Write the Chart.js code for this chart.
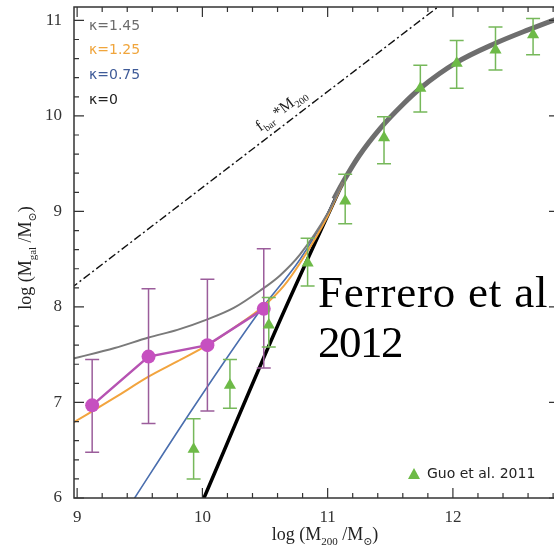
<!DOCTYPE html>
<html>
<head>
<meta charset="utf-8">
<script src="https://cdn.jsdelivr.net/npm/chart.js@4.4.1/dist/chart.umd.min.js"></script>
<style>
  html, body { margin: 0; padding: 0; background: #fff; overflow: hidden; }
  #wrap { position: relative; width: 554px; height: 553px; overflow: hidden; }
  #wrap canvas { display: block; }
</style>
</head>
<body>
<div id="wrap"><canvas id="chart" width="566" height="553"></canvas></div>
<script>
// axis ticks
const xTicks = [9, 10, 11, 12];
const yTicks = [6, 7, 8, 9, 10, 11];

// f_bar * M200 line
const fbarX = [8.95, 12.0];
const fbarY = [8.195, 11.26];

// model curves for different kappa
const k145X = [8.97, 9.3, 9.57, 9.8, 10.04, 10.25, 10.46, 10.62, 10.78, 11.0, 11.12];
const k145Y = [7.46, 7.57, 7.68, 7.76, 7.87, 7.99, 8.17, 8.33, 8.55, 8.98, 9.3];
const k125X = [8.97, 9.3, 9.57, 9.8, 10.04, 10.25, 10.49, 10.65, 10.78, 11.0, 11.12];
const k125Y = [6.79, 7.05, 7.27, 7.43, 7.6, 7.78, 8.01, 8.22, 8.46, 8.95, 9.3];
const k075X = [9.4, 9.93, 10.46, 10.78, 11.0, 11.12];
const k075Y = [5.88, 6.95, 7.96, 8.5, 8.98, 9.3];
const k0X = [9.98, 10.62, 11.12];
const k0Y = [5.9, 7.86, 9.3];
// high mass part where all curves overlap
const commonX = [11.05, 11.12, 11.25, 11.42, 11.6, 11.74, 12.03, 12.34, 12.6, 12.9];
const commonY = [9.13, 9.3, 9.58, 9.87, 10.12, 10.29, 10.56, 10.76, 10.9, 11.05];

// Ferrero et al 2012 points
const ferX = [9.12, 9.57, 10.04, 10.49];
const ferY = [6.97, 7.48, 7.60, 7.98];
const ferLo = [6.48, 6.78, 6.91, 7.36];
const ferHi = [7.45, 8.19, 8.29, 8.61];

// Guo et al. 2011 points
const guoX = [9.93, 10.22, 10.53, 10.84, 11.14, 11.45, 11.74, 12.03, 12.34, 12.64];
const guoY = [6.51, 7.18, 7.81, 8.46, 9.11, 9.77, 10.29, 10.55, 10.69, 10.85];
const guoLo = [6.20, 6.94, 7.58, 8.22, 8.87, 9.50, 10.04, 10.29, 10.48, 10.64];
const guoHi = [6.83, 7.45, 8.10, 8.72, 9.39, 9.99, 10.53, 10.79, 10.93, 11.02];

const kappaLabels = ["\u03ba=1.45", "\u03ba=1.25", "\u03ba=0.75", "\u03ba=0"];

const pts = (xs, ys) => xs.map((x, i) => ({ x: x, y: ys[i] }));

const curve = (label, xs, ys, color, width, textColor) => ({
  label: label,
  data: pts(xs, ys),
  showLine: true,
  borderColor: color,
  borderWidth: width,
  pointRadius: 0,
  cubicInterpolationMode: "monotone",
  textColor: textColor,
});

const serif = '"Liberation Serif", "DejaVu Serif", serif';
const sans = '"DejaVu Sans", sans-serif';

// text with subscripts, parts = [[text, isSub], ...]
function drawRich(ctx, parts, x, y, size, subSize, align) {
  let w = 0;
  parts.forEach(([t, s]) => {
    ctx.font = (s ? subSize : size) + "px " + serif;
    w += ctx.measureText(t).width;
  });
  let cx = align === "center" ? x - w / 2 : x;
  parts.forEach(([t, s]) => {
    ctx.font = (s ? subSize : size) + "px " + serif;
    ctx.fillText(t, cx, s ? y + size * 0.25 : y);
    cx += ctx.measureText(t).width;
  });
}

const annot = {
  id: "annot",
  // error bars go under the markers of their dataset
  beforeDatasetDraw(chart, args) {
    const ds = chart.data.datasets[args.index];
    if (!ds.errLo) return;
    const { ctx, scales: { x, y } } = chart;
    ctx.save();
    ctx.strokeStyle = ds.errColor;
    ctx.lineWidth = 1.5;
    ds.data.forEach((p, i) => {
      const px = x.getPixelForValue(p.x);
      const y1 = y.getPixelForValue(ds.errLo[i]);
      const y2 = y.getPixelForValue(ds.errHi[i]);
      ctx.beginPath();
      ctx.moveTo(px, y1); ctx.lineTo(px, y2);
      ctx.moveTo(px - 7, y1); ctx.lineTo(px + 7, y1);
      ctx.moveTo(px - 7, y2); ctx.lineTo(px + 7, y2);
      ctx.stroke();
    });
    ctx.restore();
  },
  afterDraw(chart) {
    const { ctx, chartArea: a, scales: { x, y } } = chart;
    ctx.save();

    // frame
    ctx.strokeStyle = "#333";
    ctx.lineWidth = 1.5;
    ctx.strokeRect(a.left, a.top, a.right - a.left, a.bottom - a.top);

    // inward ticks, minor every 0.2
    ctx.lineWidth = 1.2;
    ctx.beginPath();
    for (let v = 9; v <= 12.85; v += 0.2) {
      const major = Math.abs(v - Math.round(v)) < 0.01;
      const len = major ? 10 : 5;
      const px = x.getPixelForValue(v);
      ctx.moveTo(px, a.bottom); ctx.lineTo(px, a.bottom - len);
      ctx.moveTo(px, a.top); ctx.lineTo(px, a.top + len);
    }
    for (let v = 6; v <= 11.15; v += 0.2) {
      const major = Math.abs(v - Math.round(v)) < 0.01;
      const len = major ? 10 : 5;
      const py = y.getPixelForValue(v);
      ctx.moveTo(a.left, py); ctx.lineTo(a.left + len, py);
      ctx.moveTo(a.right, py); ctx.lineTo(a.right - len, py);
    }
    ctx.stroke();

    // axis titles
    ctx.fillStyle = "#222";
    ctx.textBaseline = "alphabetic";
    drawRich(ctx, [["log (M", 0], ["200", 1], [" /M", 0], ["\u2299", 1], [")", 0]], 325, 540, 18, 11, "center");
    ctx.save();
    ctx.translate(31, 258);
    ctx.rotate(-Math.PI / 2);
    drawRich(ctx, [["log (M", 0], ["gal", 1], [" /M", 0], ["\u2299", 1], [")", 0]], 0, 0, 18, 11, "center");
    ctx.restore();

    // kappa legend
    ctx.font = "14px " + sans;
    ctx.textBaseline = "middle";
    kappaLabels.forEach((lab, i) => {
      const ds = chart.data.datasets.find(d => d.label === lab);
      ctx.fillStyle = ds.textColor;
      ctx.fillText(lab, 89, 26 + i * 24.7);
    });

    // Guo legend
    const gds = chart.data.datasets[0];
    ctx.fillStyle = gds.backgroundColor;
    ctx.beginPath();
    ctx.moveTo(408, 479); ctx.lineTo(420, 479); ctx.lineTo(414, 468);
    ctx.closePath();
    ctx.fill();
    ctx.fillStyle = "#222";
    ctx.font = "14px " + sans;
    ctx.fillText(gds.label, 427, 474);

    // f_bar * M200 label along the dash-dot line
    const p1x = x.getPixelForValue(fbarX[0]), p1y = y.getPixelForValue(fbarY[0]);
    const p2x = x.getPixelForValue(fbarX[1]), p2y = y.getPixelForValue(fbarY[1]);
    const ang = Math.atan2(p2y - p1y, p2x - p1x);
    const t = 0.51;
    ctx.save();
    ctx.translate(p1x + (p2x - p1x) * t, p1y + (p2y - p1y) * t);
    ctx.rotate(ang);
    ctx.fillStyle = "#222";
    ctx.textBaseline = "alphabetic";
    drawRich(ctx, [["f", 0], ["bar", 1], [" *M", 0], ["200", 1]], 0, -9, 16, 10, "left");
    ctx.restore();

    // Ferrero et al 2012 overlay text
    ctx.fillStyle = "#000";
    ctx.font = "45px " + serif;
    ctx.textBaseline = "alphabetic";
    ctx.letterSpacing = "0.8px";
    ctx.fillText("Ferrero et al", 318, 307);
    ctx.letterSpacing = "-1.5px";
    ctx.fillText("2012", 318, 357);
    ctx.letterSpacing = "0px";

    ctx.restore();
  },
};

new Chart(document.getElementById("chart"), {
  type: "scatter",
  data: {
    datasets: [
      {
        label: "Guo et al. 2011",
        data: pts(guoX, guoY),
        pointStyle: "triangle",
        pointRadius: 7,
        backgroundColor: "#6dba47",
        borderColor: "#6dba47",
        borderWidth: 0,
        errLo: guoLo,
        errHi: guoHi,
        errColor: "#76b85a",
      },
      {
        label: "Ferrero et al 2012",
        data: pts(ferX, ferY),
        showLine: true,
        borderColor: "#b653b2",
        borderWidth: 2.5,
        pointRadius: 7,
        pointBackgroundColor: "#c650c0",
        pointBorderWidth: 0,
        errLo: ferLo,
        errHi: ferHi,
        errColor: "#9b5d9b",
      },
      curve(kappaLabels[0], k145X, k145Y, "#7a7a7a", 2, "#6c6c6c"),
      curve(kappaLabels[1], k125X, k125Y, "#f2a43e", 2, "#f0a53c"),
      curve(kappaLabels[2], k075X, k075Y, "#4a6eae", 1.6, "#3f5b98"),
      curve("", commonX, commonY, "#6e6e6e", 5, "#6e6e6e"),
      curve(kappaLabels[3], k0X, k0Y, "#000", 3.5, "#222"),
      {
        label: "fbar",
        data: pts(fbarX, fbarY),
        showLine: true,
        borderColor: "#111",
        borderWidth: 1.4,
        borderDash: [8, 3, 2, 3],
        pointRadius: 0,
      },
    ],
  },
  options: {
    responsive: false,
    animation: false,
    // canvas is wider than the picture: the plot frame runs past its right edge
    layout: { padding: { top: 6, right: 0, left: 0, bottom: 0 } },
    plugins: { legend: { display: false }, tooltip: { enabled: false } },
    scales: {
      x: {
        type: "linear",
        min: 8.975,
        max: 12.847,
        grid: { display: false, drawTicks: false },
        border: { display: false },
        afterBuildTicks: (s) => { s.ticks = xTicks.map((v) => ({ value: v })); },
        afterFit: (s) => { s.height = 55; s.paddingLeft = 0; s.paddingRight = 0; },
        ticks: {
          font: { family: "Liberation Serif", size: 17 },
          color: "#333",
          padding: 9,
          maxRotation: 0,
          autoSkip: false,
        },
      },
      y: {
        type: "linear",
        min: 6,
        max: 11.14,
        grid: { display: false, drawTicks: false },
        border: { display: false },
        afterBuildTicks: (s) => { s.ticks = yTicks.map((v) => ({ value: v })); },
        afterFit: (s) => { s.width = 74; s.paddingTop = 0; s.paddingBottom = 0; },
        ticks: {
          font: { family: "Liberation Serif", size: 17 },
          color: "#333",
          padding: 12,
          autoSkip: false,
        },
      },
    },
  },
  plugins: [annot],
});
</script>
</body>
</html>
